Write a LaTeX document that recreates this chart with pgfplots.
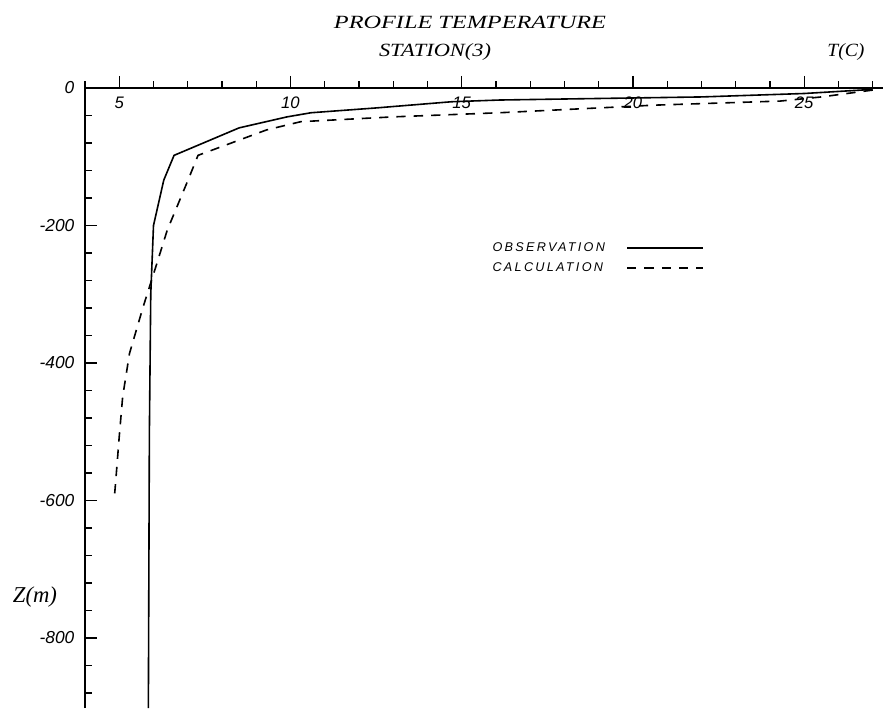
\documentclass[border=0pt]{standalone}
\usepackage{fontspec}
\setmainfont{Liberation Serif}
\setsansfont{Liberation Sans}
\usepackage{graphicx}
\usepackage{pgfplots}
\pgfplotsset{compat=1.18}
\begin{document}
\begin{tikzpicture}[x=0.75pt,y=0.75pt]
\path[use as bounding box] (0,0) rectangle (885,708);
\begin{axis}[
  at={(63.75pt,0pt)}, anchor=south west, scale only axis,
  width=598.5pt, height=465pt,
  xmin=4, xmax=27.3, ymin=-902, ymax=0,
  axis x line=top, axis y line=left,
  axis line style={-},
  x axis line style={line width=1.3pt},
  y axis line style={line width=2.2pt},
  xtick={5,10,15,20,25}, xticklabels={5,10,15,20,25},
  minor xtick={4,...,27},
  ytick={-800,-600,-400,-200,0}, yticklabels={-800,-600,-400,-200,0},
  minor ytick={-880,-840,...,-40},
  xtick align=outside, ytick align=inside,
  major tick length=9pt, minor tick length=5pt,
  every tick/.style={line width=1pt, black},
  xticklabel style={font=\sffamily\itshape\fontsize{12.5}{13}\selectfont, anchor=north, yshift=-12pt},
  yticklabel style={font=\sffamily\itshape\fontsize{13}{14}\selectfont, anchor=east, xshift=-4.5pt},
  legend style={at={(axis description cs:0.502,0.76)}, anchor=north west, draw=none, fill=none,
    font=\sffamily\itshape\fontsize{9.5}{10}\selectfont, row sep=3pt,
    /tikz/every odd column/.append style={column sep=14pt}},
  legend cell align=left, legend plot pos=right,
  legend image code/.code={\draw[#1] (0pt,0pt) -- (57pt,0pt);},
]
\addplot[black, line width=1.2pt] coordinates {
(27.0,-2) (25.0,-8) (22.0,-13) (18.0,-16) (16.1,-17.5) (14.7,-20) (12.5,-29) (10.6,-36) (9.9,-42) (8.5,-58) (6.6,-98) (6.3,-134) (6.0,-200) (5.92,-300) (5.88,-500) (5.85,-902)
};
\addlegendentry{\addfontfeature{LetterSpace=18}OBSERVATION}
\addplot[black, line width=1.2pt, dash pattern=on 7pt off 6pt] coordinates {
(27.0,-3) (25.5,-13) (24.3,-19) (20.6,-25) (19.4,-28) (16.1,-36) (13.0,-42) (10.3,-49) (9.3,-61) (7.3,-98) (7.0,-135) (6.75,-165) (6.4,-207) (6.1,-255) (5.7,-318) (5.3,-386) (5.1,-449) (5.0,-507) (4.9,-570) (4.85,-600)
};
\addlegendentry{\addfontfeature{LetterSpace=18}CALCULATION}
\end{axis}
\node[font=\itshape\fontsize{14}{15}\selectfont] at (470,686) {\scalebox{1.3}[1]{PROFILE TEMPERATURE}};
\node[font=\itshape\fontsize{14}{15}\selectfont] at (435,656) {\scalebox{1.2}[1]{STATION(3)}};
\node[font=\itshape\fontsize{14}{15}\selectfont] at (846,656) {\scalebox{1.05}[1]{T(C)}};
\node[font=\itshape\fontsize{17}{18}\selectfont] at (35,111) {Z(m)};
\end{tikzpicture}
\end{document}
